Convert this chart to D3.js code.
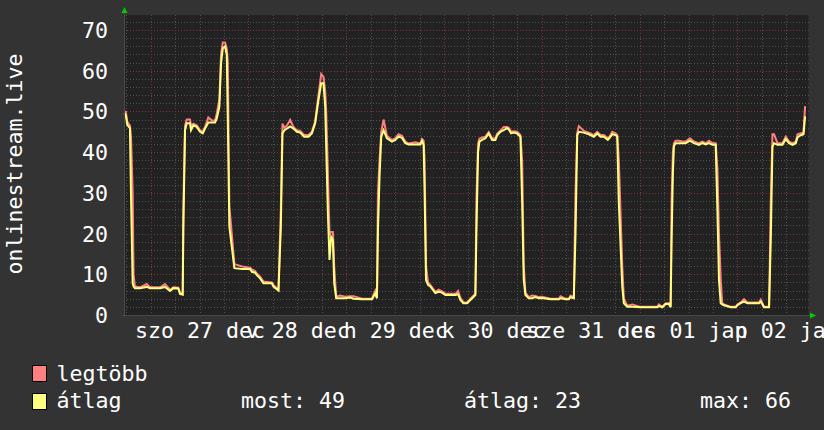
<!DOCTYPE html>
<html><head><meta charset="utf-8">
<script src="https://cdn.jsdelivr.net/npm/d3@7"></script>
<style>
html,body{margin:0;padding:0;background:#333333;}
svg{display:block;}
text{font-family:"DejaVu Sans Mono",monospace;fill:#ffffff;}
</style></head><body>
<svg id="c" width="824" height="430"></svg>
<script>
// hours after 2014-12-27 00:00
const hours = [-6.5,-6.1,-5.75,-5.09,-4.84,-4.42,-4.2,-3.86,-2.63,-0.98,-0.17,2.29,3.51,4.74,5.55,6.78,7.2,7.86,8.01,8.43,8.85,9.66,9.9,10.47,11.3,12.11,12.78,13.34,14.15,14.99,15.8,16.22,16.86,17.27,17.69,18.26,18.67,18.92,19.31,19.9,20.54,22.43,24.4,24.82,25.63,26.05,26.86,27.67,29.73,30.13,31.36,31.94,32.34,32.83,33.42,34.23,35.04,35.88,36.69,37.67,38.73,39.56,40.37,41.18,41.85,42.41,42.83,43.08,43.49,43.89,44.3,44.72,45.04,45.53,46.51,47.74,48.97,49.78,51.92,54.31,55.12,55.53,55.78,56.17,56.59,57.16,57.99,59.22,60.03,60.84,61.68,62.49,63.3,64.95,66.18,66.59,66.99,67.23,67.58,68.07,68.63,69.86,70.67,71.51,72.32,74.78,75.44,76.01,76.74,77.65,78.46,79.27,79.69,79.94,80.35,80.67,81.34,82.15,82.96,83.8,84.6,85.02,85.83,86.64,87.48,87.87,88.46,89.1,89.94,90.75,91.17,91.56,91.98,92.79,93.62,94.43,95.24,96.08,98.12,100.16,100.58,101.81,102.62,103.04,103.85,104.27,104.69,105.08,106.31,107.54,108.76,109.6,110.41,111.22,112.2,112.87,113.28,114.09,114.51,114.9,115.74,116.13,116.97,118.2,120.24,122.7,124.34,124.73,125.57,126.38,127.19,127.61,127.85,128.17,128.42,128.84,129.65,130.48,131.29,132.35,133.33,134.56,135.4,136.21,137.02,137.86,138.67,139.09,139.48,139.9,140.27,140.71,142.36,143.59,144.0,144.81,145.62,146.46,147.76,149.31,149.73,150.54,151.77,152.19,152.6,152.99,153.83,155.06,155.87,156.68,157.52,158.33,158.75,159.39,160.22,160.62];
const atlag = [49.6,49.1,46.7,45.9,29.9,7.8,7.0,6.6,6.6,6.9,6.6,6.6,6.9,5.9,6.6,6.5,5.2,5.0,21,45.4,47.1,47.1,45.4,46.6,46.2,45,44.6,45.8,47.3,47.3,47.3,48.3,51.2,61.8,65.5,66,63.9,48.3,21.7,16.8,11.5,11.3,11.3,10.6,10.4,9.8,9.0,7.8,7.8,7.0,6.0,21.3,44.6,45.4,45.8,46.3,45.8,45,44.8,43.8,43.8,44.6,47.1,52.8,56.9,56.9,51.2,41.3,25,13.5,19.2,18.4,7.8,4.1,4.1,4.1,4.3,4.0,3.85,3.85,5.3,4.1,20.9,34,43.8,45.4,43.4,42.6,43,43.8,43.5,42.2,41.9,41.9,41.9,42.8,41.8,29.9,8.6,7.4,7.0,5.4,5.7,5.5,4.9,4.9,5.1,3.7,2.9,2.9,3.7,4.5,4.9,20,40,42.6,43,43.4,44.6,43,43,44.1,45,45.4,45.9,45.6,44.6,44.8,44.6,43.8,27.8,8.6,4.9,4.1,4.1,4.4,4.1,4.2,3.85,3.85,4.1,3.85,3.85,4.4,4.1,20,44.2,45,44.8,44.4,43.8,44.6,43.8,43.8,43,43.8,44.4,44.2,43.8,27.4,7.0,2.9,2.05,2.05,1.9,1.9,1.9,2.2,1.9,2.7,2.7,1.9,18.4,35,41.5,42.2,42.2,42.2,42.2,42.8,42.2,41.8,42.2,41.9,42.2,41.8,41.8,25.8,8.6,2.9,2.6,2.4,1.9,1.9,2.4,2.9,3.3,2.9,2.9,2.9,3.3,1.9,1.9,18.4,41.3,42.2,41.8,41.8,43.2,42.2,41.8,42.2,43.6,44.1,44.4,48.8];
const legtobb = [50,49.9,47.5,46.5,44,30,10,7.0,6.8,7.6,6.8,6.8,7.6,6.2,6.8,6.7,5.5,5.2,26,46.5,48,48,46.4,47,46.6,45.4,45,46.2,48.5,47.8,47.8,49.5,53,64,66.9,66.9,65.5,62,26.6,20,12.5,11.9,11.6,11.2,10.8,10.2,9.4,8.2,8.0,7.4,6.2,26,47,46,46.5,47.9,46.2,45.4,45.2,44.2,44.2,45,47.6,54,59.2,58.5,55,50,35,20,20.4,20.4,12,4.5,4.8,4.5,4.6,4.6,4.0,4.0,6,4.5,30,38,45,48,44,43,43.4,44.4,44,42.6,42.1,42.4,42.1,43.2,42.8,38,12,8,7.4,5.7,6.2,5.8,5.2,5.2,5.9,4.2,3.1,3.1,4,4.8,5.3,28,42,43.3,43.6,43.8,44.9,43.4,43.4,44.5,45.3,46.2,46.2,46,45,45.1,45,44.2,38,12,5.5,4.4,4.8,4.7,4.4,4.5,4.0,4.0,4.6,4.0,4.0,4.8,4.4,30,44.8,46.4,45.2,44.8,44.2,45,44.2,44.2,43.4,44.2,45,44.6,44.2,38,12,4,2.3,2.6,2.0,2.0,2.0,2.6,2.0,2.9,2.9,2.0,28,40,42.2,42.8,42.8,42.6,42.6,43.4,42.6,42.2,42.6,42.2,42.8,42.2,42.2,36,20,9,3,2.6,2.0,2.0,2.6,3.1,3.9,3.1,3.1,3.1,3.8,2.0,2.0,28,44.4,44.4,42.2,42.2,43.8,42.6,42.2,42.6,44.4,44.6,44.8,51.3];
const dayLabels = ["szo 27 dec","v 28 dec","h 29 dec","k 30 dec","sze 31 dec","cs 01 jan","p 02 jan"];
const yTicks = [0,10,20,30,40,50,60,70];
const seriesNames = ["legtöbb","átlag"];
const seriesColors = ["#ff8080","#ffff80"];
const stats = ["most: 49","átlag: 23","max: 66"];

const FS = 21.6;
const base = new Date(2014,11,27,0,0).getTime();
const toDate = h => new Date(base + h*3600e3);
const t0 = toDate(-6.55), t1 = toDate(168-6.55);

const L=124, R=808.5, T=15, B=315;
const x = d3.scaleTime().domain([t0,t1]).range([L,R]);
const y = d3.scaleLinear().domain([0,70]).range([B,30]);

const svg = d3.select("#c");
svg.append("rect").attr("width",824).attr("height",430).attr("fill","#333333");
svg.append("rect").attr("x",L).attr("y",T).attr("width",R-L).attr("height",B-T).attr("fill","#222222");

const grid = svg.append("g").attr("shape-rendering","crispEdges");
const yMax = y.invert(T);
// minor horizontal
d3.range(2,yMax,2).filter(v=>v%10!==0).forEach(v=>{
  grid.append("line").attr("x1",L).attr("x2",R).attr("y1",Math.round(y(v))+0.5).attr("y2",Math.round(y(v))+0.5)
   .attr("stroke","#505050").attr("stroke-dasharray","1,2");
});
// minor vertical (6h)
d3.timeHour.every(6).range(t0,t1).forEach(d=>{
  if(d.getHours()===0) return;
  const xx=Math.round(x(d))+0.5;
  grid.append("line").attr("x1",xx).attr("x2",xx).attr("y1",T).attr("y2",B)
   .attr("stroke","#505050").attr("stroke-dasharray","1,2");
});
// major horizontal
yTicks.filter(v=>v>0).forEach(v=>{
  grid.append("line").attr("x1",L).attr("x2",R).attr("y1",Math.round(y(v))+0.5).attr("y2",Math.round(y(v))+0.5)
   .attr("stroke","#7a3838").attr("stroke-dasharray","1,2");
});
// major vertical (days)
d3.timeDay.range(t0,t1).forEach(d=>{
  const xx=Math.round(x(d))+0.5;
  grid.append("line").attr("x1",xx).attr("x2",xx).attr("y1",T).attr("y2",B+3)
   .attr("stroke","#7a3838").attr("stroke-dasharray","1,2");
});

const line = d3.line().x((d,i)=>x(toDate(hours[i]))).y(d=>y(d));
svg.append("path").datum(legtobb).attr("d",line).attr("fill","none")
  .attr("stroke",seriesColors[0]).attr("stroke-width",2).attr("stroke-linejoin","miter");
svg.append("path").datum(atlag).attr("d",line).attr("fill","none")
  .attr("stroke",seriesColors[1]).attr("stroke-width",2).attr("stroke-linejoin","miter");

// axes lines
svg.append("line").attr("x1",L+0.5).attr("x2",L+0.5).attr("y1",B+2).attr("y2",10).attr("stroke","#4a4a4a");
svg.append("line").attr("x1",L-2).attr("x2",812).attr("y1",B+0.5).attr("y2",B+0.5).attr("stroke","#4a4a4a");
// arrows
svg.append("path").attr("d",`M${L-2.5},13 L${L+3.5},13 L${L+0.5},7 Z`).attr("fill","#00cc00");
svg.append("path").attr("d",`M810,${B-2.5} L810,${B+3.5} L816,${B+0.5} Z`).attr("fill","#00cc00");

// y axis labels
const yAxis = d3.axisLeft(y).tickValues(yTicks).tickSize(0).tickPadding(0).tickFormat(d3.format("d"));
const gy = svg.append("g").attr("transform",`translate(${L-16},0)`).call(yAxis);
gy.select(".domain").remove();
gy.selectAll("text").attr("font-family","DejaVu Sans Mono").attr("font-size",FS).attr("fill","#fff").attr("dy","0.35em");

// x axis labels at noon
const noons = dayLabels.map((s,i)=>new Date(2014,11,27+i,12,0));
const xAxis = d3.axisBottom(x).tickValues(noons).tickSize(0).tickPadding(0).tickFormat((d,i)=>dayLabels[i]);
const gx = svg.append("g").attr("transform",`translate(0,${B})`).call(xAxis);
gx.select(".domain").remove();
gx.selectAll("text").attr("font-family","DejaVu Sans Mono").attr("font-size",FS).attr("fill","#fff").attr("dy",null).attr("y",22.5);

// y title
svg.append("text").attr("transform","translate(22,164) rotate(-90)").attr("text-anchor","middle")
  .attr("font-size",FS).text("onlinestream.live");

// legend
const lg = svg.append("g");
[[365,381],[393,408]].forEach((p,i)=>{
  lg.append("rect").attr("x",32.5).attr("y",p[0]+0.5).attr("width",14).attr("height",16)
    .attr("fill",seriesColors[i]).attr("stroke","#000").attr("stroke-width",1);
  lg.append("text").attr("x",56.5).attr("y",p[1]).attr("font-size",FS).text(seriesNames[i]);
});
[241,464,700].forEach((xx,i)=>{
  lg.append("text").attr("x",xx).attr("y",408).attr("font-size",FS).text(stats[i]);
});
</script>
</body></html>
